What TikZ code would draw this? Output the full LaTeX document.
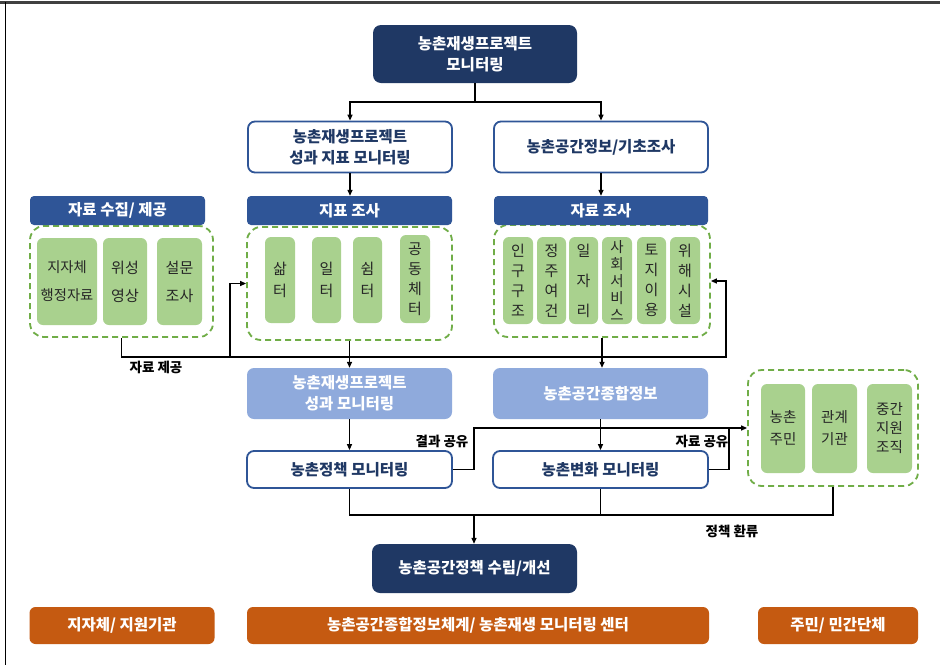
\documentclass[tikz,border=0pt]{standalone}
\usepackage{fontspec}
\setmainfont{Noto Sans CJK KR}
\usetikzlibrary{arrows.meta}
\definecolor{navy}{HTML}{1F3864}
\definecolor{hdrblue}{HTML}{2F5597}
\definecolor{lblue}{HTML}{8FAADC}
\definecolor{lgreen}{HTML}{A9D18E}
\definecolor{dgreen}{HTML}{70AD47}
\definecolor{orangec}{HTML}{C55A11}
\definecolor{framegray}{HTML}{404040}
\begin{document}
\begin{tikzpicture}[x=1pt,y=-1pt,
 base/.style={inner sep=0pt, align=center, font=\fontsize{15.5}{19}\selectfont},
 navybox/.style={base, fill=navy, rounded corners=8pt, text=white, font=\fontsize{15.5}{21}\selectfont\bfseries},
 wbox/.style={base, draw=hdrblue, line width=1.8pt, fill=white, rounded corners=7pt, text=navy, font=\fontsize{15.5}{21}\selectfont\bfseries},
 hdr/.style={base, fill=hdrblue, rounded corners=4pt, text=white, font=\fontsize{15.5}{18}\selectfont\bfseries},
 grp/.style={draw=dgreen, line width=1.8pt, dash pattern=on 6pt off 4pt, rounded corners=14pt, inner sep=0pt},
 gbox/.style={base, fill=lgreen, rounded corners=6pt, text=black!85},
 lbbox/.style={base, fill=lblue, rounded corners=7pt, text=white, font=\fontsize{15.5}{21}\selectfont\bfseries},
 obox/.style={base, fill=orangec, rounded corners=6pt, text=white, font=\fontsize{15.5}{18}\selectfont\bfseries},
 wire/.style={line width=1.3pt, draw=black},
 arr/.style={wire, -{Triangle[length=6pt,width=5pt]}},
 lbl/.style={inner sep=0pt, font=\fontsize{13.5}{15}\selectfont\bfseries},
]
\useasboundingbox (0,0) rectangle (940,665);
\fill[white] (0,0) rectangle (940,665);
\draw[framegray, line width=2.6pt] (0,2.6) -- (940,2.6);
\draw[black, line width=1.6pt] (5.5,2) -- (5.5,665);

% top
\node[navybox, minimum width=204pt, minimum height=58pt] (top) at (475,54) {농촌재생프로젝트\\모니터링};
\node[wbox, minimum width=204pt, minimum height=51pt] (pm) at (350,147) {농촌재생프로젝트\\성과 지표 모니터링};
\node[wbox, minimum width=214pt, minimum height=51pt] (gi) at (601,147) {농촌공간정보/기초조사};

% groups
\node[grp, minimum width=183pt, minimum height=111pt] (g1) at (121.5,281.5) {};
\node[grp, minimum width=205pt, minimum height=113pt] (g2) at (349.5,283.5) {};
\node[grp, minimum width=216pt, minimum height=112pt] (g3) at (602,281) {};
\node[grp, minimum width=170pt, minimum height=116pt] (g4) at (833,428) {};

% headers
\node[hdr, minimum width=175pt, minimum height=29pt] (h1) at (117.5,210.5) {자료 수집/ 제공};
\node[hdr, minimum width=205pt, minimum height=29pt] (h2) at (349.5,210.5) {지표 조사};
\node[hdr, minimum width=214pt, minimum height=29pt] (h3) at (601,210.5) {자료 조사};

% group 1 items
\node[gbox, minimum width=60pt, minimum height=87pt, font=\fontsize{14.3}{28}\selectfont] (a1) at (67,281.5) {지자체\\행정자료};
\node[gbox, minimum width=44pt, minimum height=87pt, font=\fontsize{15}{28}\selectfont] (a2) at (125,281.5) {위성\\영상};
\node[gbox, minimum width=45pt, minimum height=87pt, font=\fontsize{15}{28}\selectfont] (a3) at (179.5,281.5) {설문\\조사};

% group 2 items
\node[gbox, minimum width=30pt, minimum height=86pt, font=\fontsize{15}{22}\selectfont] (b1) at (280,280) {삶\\터};
\node[gbox, minimum width=29pt, minimum height=86pt, font=\fontsize{15}{22}\selectfont] (b2) at (326.5,280) {일\\터};
\node[gbox, minimum width=29pt, minimum height=86pt, font=\fontsize{15}{22}\selectfont] (b3) at (367.5,280) {쉼\\터};
\node[gbox, minimum width=30pt, minimum height=88pt, font=\fontsize{15}{20}\selectfont] (b4) at (415,279) {공\\동\\체\\터};

% group 3 items
\node[gbox, minimum width=30pt, minimum height=87pt, font=\fontsize{15}{20}\selectfont] (c1) at (518,280.5) {인\\구\\구\\조};
\node[gbox, minimum width=29pt, minimum height=87pt, font=\fontsize{15}{20}\selectfont] (c2) at (551.5,280.5) {정\\주\\여\\건};
\node[gbox, minimum width=29pt, minimum height=87pt, font=\fontsize{15}{30}\selectfont] (c3) at (583.5,280.5) {일\\자\\리};
\node[gbox, minimum width=30pt, minimum height=87pt, font=\fontsize{14.5}{16.8}\selectfont] (c4) at (617,280.5) {사\\회\\서\\비\\스};
\node[gbox, minimum width=29pt, minimum height=87pt, font=\fontsize{15}{20}\selectfont] (c5) at (651.5,280.5) {토\\지\\이\\용};
\node[gbox, minimum width=30pt, minimum height=87pt, font=\fontsize{15}{20}\selectfont] (c6) at (685,280.5) {위\\해\\시\\설};

% middle row
\node[lbbox, minimum width=205pt, minimum height=51pt] (r1) at (349.5,393.5) {농촌재생프로젝트\\성과 모니터링};
\node[lbbox, minimum width=215pt, minimum height=51pt] (r2) at (600.5,393.5) {농촌공간종합정보};
\node[wbox, minimum width=205pt, minimum height=37pt] (p1) at (349.5,469.5) {농촌정책 모니터링};
\node[wbox, minimum width=215pt, minimum height=37pt] (p2) at (600.5,469.5) {농촌변화 모니터링};

% group 4 items
\node[gbox, minimum width=44pt, minimum height=89pt, font=\fontsize{14.5}{22}\selectfont] (d1) at (783,428.5) {농촌\\주민};
\node[gbox, minimum width=45pt, minimum height=89pt, font=\fontsize{14.5}{22}\selectfont] (d2) at (834.5,428.5) {관계\\기관};
\node[gbox, minimum width=45pt, minimum height=89pt, font=\fontsize{14.5}{19}\selectfont] (d3) at (889.5,428.5) {중간\\지원\\조직};

% bottom
\node[navybox, minimum width=205pt, minimum height=49pt] (bot) at (474.5,568.5) {농촌공간정책 수립/개선};
\node[obox, minimum width=185pt, minimum height=37pt] (o1) at (122,625.5) {지자체/ 지원기관};
\node[obox, minimum width=462pt, minimum height=37pt] (o2) at (478,625.5) {농촌공간종합정보체계/ 농촌재생 모니터링 센터};
\node[obox, minimum width=160pt, minimum height=37pt] (o3) at (838,625.5) {주민/ 민간단체};

% connectors
\coordinate (j1) at (475,102);
\draw[wire] (top.south) -- (j1);
\draw[arr] (j1) -| (pm.north);
\draw[arr] (j1) -| (gi.north);
\draw[arr] (pm.south) -- (pm.south |- h2.north);
\draw[arr] (gi.south) -- (gi.south |- h3.north);

\coordinate (jr) at (726,357);
\coordinate (jl) at (230,357);
\draw[arr] (g1.south) |- (jr) |- (g3.east);
\draw[arr] (jl) |- (g2.west);
\draw[arr] (g2.south) -- (g2.south |- r1.north);
\draw[arr] (g3.south) -- (g3.south |- r2.north);
\node[lbl] (l1) at (156,367) {자료 제공};

\draw[arr] (r1.south) -- (r1.south |- p1.north);
\draw[arr] (r2.south) -- (r2.south |- p2.north);

\coordinate (k1) at (474,428);
\coordinate (k2) at (729,428);
\draw[arr] (p1.east) -| (k1) -- (g4.west);
\draw[wire] (p2.east) -| (k2);
\node[lbl] (l2) at (442,441) {결과 공유};
\node[lbl] (l3) at (702,441) {자료 공유};

\coordinate (m) at (474,515);
\draw[wire] (p1.south) |- (m);
\draw[wire] (p2.south) |- (m);
\draw[wire] (g4.south) |- (m);
\draw[arr] (m) -- (m |- bot.north);
\node[lbl] (l4) at (732,531) {정책 환류};
\end{tikzpicture}
\end{document}
